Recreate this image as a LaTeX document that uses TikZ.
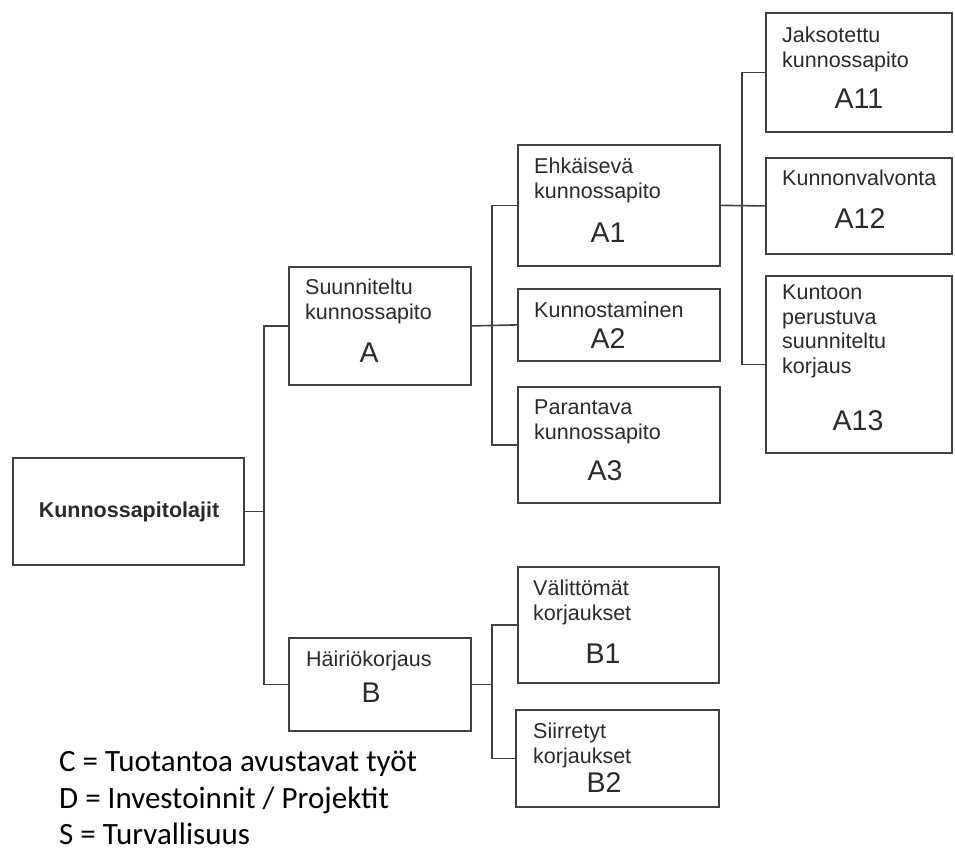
\documentclass[tikz,border=0pt]{standalone}
\usepackage{fontspec}
\setmainfont{Liberation Sans}
\newfontfamily\legendfont{Carlito}
\usepackage{tikz}
\usetikzlibrary{positioning}
\usetikzlibrary{calc}
\definecolor{linegrey}{HTML}{404040}
\definecolor{textgrey}{HTML}{2A2A2A}
\tikzstyle{box} = [draw=linegrey,line width=1.8pt,rectangle,anchor=north west,inner sep=0pt]
\tikzstyle{desc} = [anchor=north west,inner sep=0pt,align=left,text=textgrey,font=\fontsize{21.5}{24.5}\selectfont]
\tikzstyle{code} = [anchor=base,inner sep=0pt,text=textgrey,font=\fontsize{28.5}{32}\selectfont]
\tikzstyle{conn} = [draw=linegrey,line width=1.6pt]
\tikzstyle{legend} = [anchor=base west,inner sep=0pt,font=\legendfont\fontsize{31}{37}\selectfont]

\begin{document}
\begin{tikzpicture}
	[x=1pt,y=-1pt]
	\useasboundingbox (0,0) rectangle (955,854);
	
	% boxes
	\node (main) [box,minimum width=231pt,minimum height=107pt] at (12,457) {};
	\node (a) [box,minimum width=182pt,minimum height=118pt] at (288,266) {};
	\node (b) [box,minimum width=182pt,minimum height=93pt] at (288,637) {};
	\node (a1) [box,minimum width=202pt,minimum height=121pt] at (517,144) {};
	\node (a2) [box,minimum width=202pt,minimum height=72pt] at (517,288) {};
	\node (a3) [box,minimum width=202pt,minimum height=116pt] at (517,386) {};
	\node (a11) [box,minimum width=186pt,minimum height=119pt] at (765,12) {};
	\node (a12) [box,minimum width=186pt,minimum height=96pt] at (765,157) {};
	\node (a13) [box,minimum width=186pt,minimum height=177pt] at (765,275) {};
	\node (b1) [box,minimum width=201pt,minimum height=116pt] at (517,566) {};
	\node (b2) [box,minimum width=203pt,minimum height=97pt] at (515,709) {};
	
	% texts
	\node (main-t) [anchor=base,inner sep=0pt,text=textgrey,font=\fontsize{21.5}{24.5}\selectfont\bfseries] at (129,517) {Kunnossapitolajit};
	\node (a-t) [desc] at (305,279) {Suunniteltu\\kunnossapito};
	\node (a-c) [code] at (369,362) {A};
	\node (b-t) [desc] at (306,651) {Häiriökorjaus};
	\node (b-c) [code] at (371,702) {B};
	\node (a1-t) [desc] at (534,158) {Ehkäisevä\\kunnossapito};
	\node (a1-c) [code] at (608,242) {A1};
	\node (a2-t) [desc] at (534,302) {Kunnostaminen};
	\node (a2-c) [code] at (608,348) {A2};
	\node (a3-t) [desc] at (534,400) {Parantava\\kunnossapito};
	\node (a3-c) [code] at (605,480) {A3};
	\node (a11-t) [desc] at (782,27) {Jaksotettu\\kunnossapito};
	\node (a11-c) [code] at (859,108) {A11};
	\node (a12-t) [desc] at (782,170) {Kunnonvalvonta};
	\node (a12-c) [code] at (860,228) {A12};
	\node (a13-t) [desc] at (782,285) {Kuntoon\\perustuva\\suunniteltu\\korjaus};
	\node (a13-c) [code] at (858,430) {A13};
	\node (b1-t) [desc] at (533,580) {Välittömät\\korjaukset};
	\node (b1-c) [code] at (603,663) {B1};
	\node (b2-t) [desc] at (533,723) {Siirretyt\\korjaukset};
	\node (b2-c) [code] at (604,792) {B2};
	
	% legend
	\node (leg-c) [legend] at (59,771) {C = Tuotantoa avustavat työt};
	\node (leg-d) [legend] at (59,808) {D = Investoinnit / Projektit};
	\node (leg-s) [legend] at (59,844) {S = Turvallisuus};
	
	% junctions
	\coordinate (j0) at (264,0);
	\coordinate (j1) at (492,0);
	\coordinate (j2) at (742,0);
	
	\draw[conn] (main.east) -- (main.east -| j0);
	\draw[conn] (a.west) -- (a.west -| j0) -- (b.west -| j0) -- (b.west);
	\draw[conn] (a.east) -- (a2.west);
	\draw[conn] (a1.west) -- (a1.west -| j1) -- (a3.west -| j1) -- (a3.west);
	\draw[conn] (a1.east) -- (a12.west);
	\draw[conn] (a11.west) -- (a11.west -| j2) -- (a13.west -| j2) -- (a13.west);
	\draw[conn] (b.east) -- (b.east -| j1);
	\draw[conn] (b1.west) -- (b1.west -| j1) -- (b2.west -| j1) -- (b2.west);
\end{tikzpicture}
\end{document}
